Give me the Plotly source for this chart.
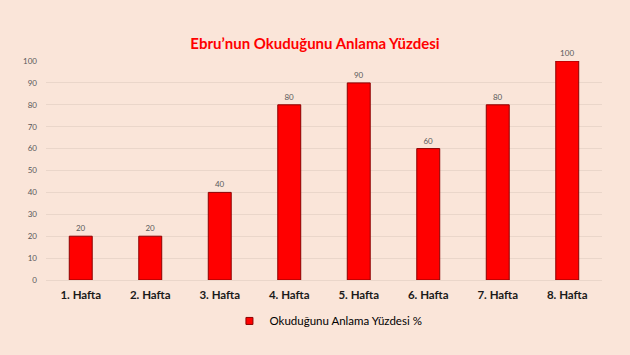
import plotly.graph_objects as go

categories = ["1. Hafta", "2. Hafta", "3. Hafta", "4. Hafta", "5. Hafta", "6. Hafta", "7. Hafta", "8. Hafta"]
values = [20, 20, 40, 80, 90, 60, 80, 100]
series_name = "Okuduğunu Anlama Yüzdesi %"
title = "Ebru’nun Okuduğunu Anlama Yüzdesi"

bg = "#FAE5D9"

fig = go.Figure()
fig.add_trace(go.Bar(
    x=categories, y=values, name=series_name, showlegend=False,
    marker=dict(color="#FF0000", line=dict(color="#8B0000", width=1)),
    text=values, textposition="outside",
    textfont=dict(size=8, color="#595959", family="Lato"),
    cliponaxis=False,
))
# legend entry with small square marker
fig.add_trace(go.Scatter(
    x=[categories[0]], y=[None], mode="markers", name=series_name,
    marker=dict(symbol="square", size=7, color="#FF0000", line=dict(color="#8B0000", width=1)),
    showlegend=True, hoverinfo="skip",
))
fig.update_layout(
    width=630, height=355,
    paper_bgcolor=bg, plot_bgcolor=bg,
    margin=dict(l=46, r=28, t=61, b=75),
    title=dict(text="<b>" + title + "</b>", x=0.5, xanchor="center", y=1 - 44/355, yanchor="middle",
               font=dict(family="Lato", size=15, color="#FF0000")),
    bargap=0.67,
    showlegend=True,
    legend=dict(orientation="h", x=0.508, xanchor="center", y=-0.187, yanchor="middle",
                font=dict(family="Lato", size=11.5, color="#000000"),
                bgcolor="rgba(0,0,0,0)", itemwidth=30, tracegroupgap=0),
    yaxis=dict(range=[0, 100], dtick=10, showgrid=True, gridcolor="#EAD6CA", gridwidth=1,
               zeroline=False, showline=False, ticks="",
               tickfont=dict(family="Lato", size=8, color="#595959"), ticklabelstandoff=8),
    xaxis=dict(showline=True, linecolor="#EAD6CA", ticks="",
               tickfont=dict(family="Lato", size=11.5, color="#1a1a1a", weight="bold"),
               ticklabelstandoff=4),
)
fig.write_html("out.html")
